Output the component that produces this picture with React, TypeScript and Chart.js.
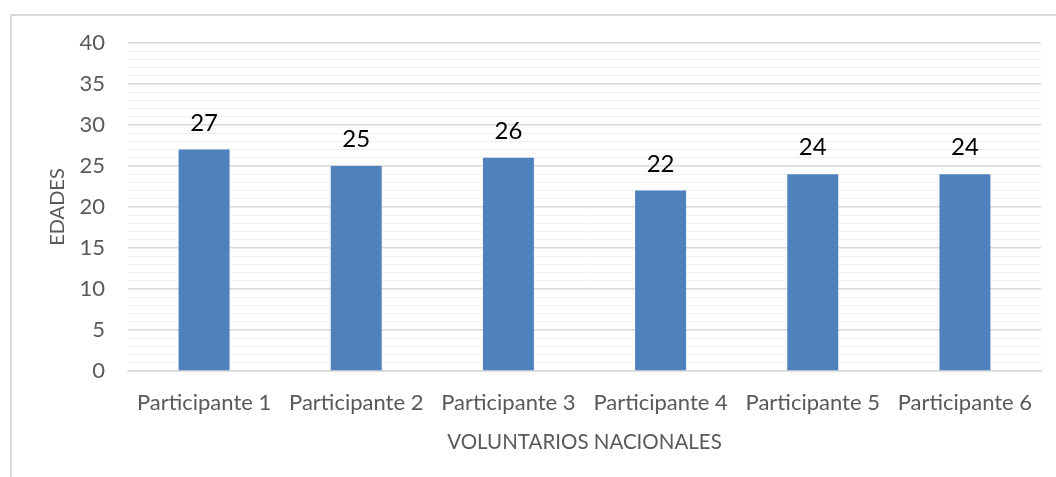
import { useEffect, useRef } from 'react';
import { Chart, registerables } from 'chart.js';

Chart.register(...registerables);

const categories = ['Participante 1', 'Participante 2', 'Participante 3', 'Participante 4', 'Participante 5', 'Participante 6'];
const edades = [27, 25, 26, 22, 24, 24];
const yMin = 0;
const yMax = 40;
const yMajorStep = 5;
const xTitle = 'VOLUNTARIOS NACIONALES';
const yTitle = 'EDADES';

const FONT = 'Lato';

const dataLabelPlugin = {
  id: 'dataLabels',
  afterDatasetsDraw(chart: any) {
    const ctx = chart.ctx;
    const meta = chart.getDatasetMeta(0);
    const data = chart.data.datasets[0].data;
    ctx.save();
    ctx.font = `24px ${FONT}`;
    ctx.fillStyle = '#000000';
    ctx.textAlign = 'center';
    ctx.textBaseline = 'alphabetic';
    meta.data.forEach((el: any, i: number) => {
      ctx.fillText(String(data[i]), el.x, el.y - 19);
    });
    ctx.restore();
  },
};

export default function App() {
  const canvasRef = useRef<HTMLCanvasElement | null>(null);

  useEffect(() => {
    if (!canvasRef.current) return;
    const chart = new Chart(canvasRef.current, {
      type: 'bar',
      data: {
        labels: categories,
        datasets: [
          {
            data: edades,
            backgroundColor: '#4f81bd',
            borderWidth: 0,
            categoryPercentage: 1,
            barPercentage: 0.335,
          },
        ],
      },
      options: {
        responsive: false,
        animation: false,
        devicePixelRatio: 1,
        layout: { padding: { top: 43, left: 0, right: 15, bottom: 0 } },
        plugins: {
          legend: { display: false },
          tooltip: { enabled: false },
        },
        scales: {
          x: {
            grid: { display: false, drawTicks: false },
            border: { display: true, color: '#d9d9d9', width: 1.5 },
            ticks: {
              color: '#595959',
              font: { family: FONT, size: 22 },
              padding: 19,
              maxRotation: 0,
              autoSkip: false,
            },
            title: {
              display: true,
              text: xTitle,
              color: '#595959',
              font: { family: FONT, size: 20.5 },
              padding: { top: 0, bottom: 22 },
            },
            afterFit(scale: any) {
              scale.height = 106;
            },
          },
          y: {
            min: yMin,
            max: yMax,
            grid: {
              drawTicks: false,
              color: (c: any) => (c.tick && c.tick.value % yMajorStep === 0 ? '#d9d9d9' : '#f0f0f0'),
              lineWidth: (c: any) => (c.tick && c.tick.value % yMajorStep === 0 ? 1.5 : 1),
            },
            border: { display: false },
            ticks: {
              stepSize: 1,
              autoSkip: false,
              color: '#595959',
              font: { family: FONT, size: 22 },
              padding: 23,
              callback: (v: any) => (Number(v) % yMajorStep === 0 ? String(v) : ''),
            },
            title: {
              display: true,
              text: yTitle,
              color: '#595959',
              font: { family: FONT, size: 20 },
              padding: { top: 46, bottom: 0 },
            },
            afterFit(scale: any) {
              scale.width = 128;
            },
          },
        },
      },
      plugins: [dataLabelPlugin],
    });
    return () => chart.destroy();
  }, []);

  return (
    <div style={{ position: 'fixed', left: 0, top: 0, width: 1056, height: 477, background: '#ffffff', overflow: 'hidden' }}>
      <div
        style={{
          position: 'absolute',
          left: 10,
          top: 14,
          width: 1046,
          height: 463,
          borderTop: '2px solid #d9d9d9',
          borderLeft: '2px solid #d9d9d9',
          boxSizing: 'border-box',
        }}
      />
      <canvas ref={canvasRef} width={1056} height={477} style={{ position: 'absolute', left: 0, top: 0, width: 1056, height: 477 }} />
    </div>
  );
}
